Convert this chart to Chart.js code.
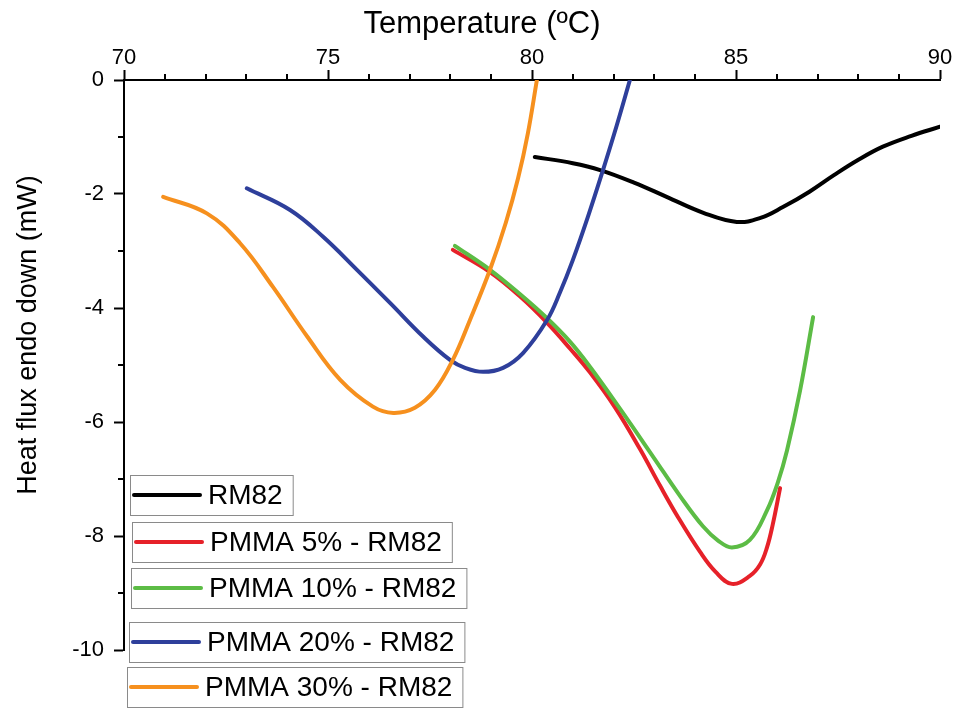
<!DOCTYPE html>
<html>
<head>
<meta charset="utf-8">
<script src="https://cdn.jsdelivr.net/npm/chart.js@4.4.1/dist/chart.umd.min.js"></script>
<style>
    body { margin: 0; background: #ffffff; }
    #wrap { width: 956px; height: 708px; }
</style>
</head>
<body>
<div id="wrap"><canvas id="dscChart" width="956" height="708"></canvas></div>
<script>
// Series labels and colours (legend order)
const seriesLabels = ['RM82', 'PMMA 5% - RM82', 'PMMA 10% - RM82', 'PMMA 20% - RM82', 'PMMA 30% - RM82'];
const seriesColors = ['#000000', '#e62129', '#5cbc45', '#2e3f9b', '#f6901e'];

// Temperature (x) and heat flux (y) readings for each curve
const rm82Temp = [80.07, 81.0, 81.67, 82.5, 83.3, 84.2, 85.02, 85.6, 86.15, 86.8, 87.4, 88.0, 88.6, 89.3, 90.0];
const rm82Flux = [-1.35, -1.46, -1.58, -1.8, -2.05, -2.33, -2.49, -2.42, -2.23, -1.96, -1.67, -1.4, -1.17, -0.98, -0.82];

const pmma5Temp = [78.06, 78.97, 79.71, 80.37, 80.93, 81.42, 82.03, 82.65, 83.14, 83.58, 84.12, 84.5, 84.9, 85.34, 85.59, 85.76, 85.9, 86.08];
const pmma5Flux = [-2.98, -3.37, -3.8, -4.26, -4.71, -5.13, -5.74, -6.48, -7.12, -7.67, -8.28, -8.63, -8.84, -8.7, -8.5, -8.2, -7.8, -7.16];

const pmma10Temp = [78.11, 78.97, 79.71, 80.37, 80.93, 81.42, 82.16, 82.97, 83.63, 84.19, 84.56, 84.9, 85.34, 85.76, 86.03, 86.25, 86.57, 86.89];
const pmma10Flux = [-2.91, -3.33, -3.76, -4.18, -4.59, -5.03, -5.77, -6.61, -7.3, -7.83, -8.08, -8.2, -8.07, -7.55, -7.05, -6.5, -5.45, -4.16];

const pmma20Temp = [73.01, 74.07, 74.88, 75.71, 76.52, 77.33, 77.99, 78.36, 78.8, 79.29, 79.78, 80.37, 80.69, 81.0, 81.37, 81.74, 82.08, 82.4];
const pmma20Flux = [-1.9, -2.28, -2.75, -3.33, -3.91, -4.5, -4.91, -5.05, -5.12, -5.05, -4.79, -4.21, -3.72, -3.16, -2.4, -1.58, -0.79, 0];

const pmma30Temp = [70.96, 72.03, 72.84, 73.65, 74.49, 75.3, 76.1, 76.6, 77.13, 77.62, 78.06, 78.48, 78.97, 79.36, 79.66, 79.9, 80.12];
const pmma30Flux = [-2.05, -2.34, -2.86, -3.63, -4.5, -5.26, -5.73, -5.84, -5.75, -5.44, -4.91, -4.21, -3.33, -2.5, -1.72, -0.93, 0];

// Axis ranges and tick steps
const xRange = [70, 90];
const yRange = [-10, 0];
const xMajorStep = 5;
const yMajorStep = 2;

const FONT = '"Liberation Sans", Arial, sans-serif';

function toPoints(xs, ys) {
    return xs.map((x, i) => ({ x: x, y: ys[i] }));
}

const allSeries = [
    toPoints(rm82Temp, rm82Flux),
    toPoints(pmma5Temp, pmma5Flux),
    toPoints(pmma10Temp, pmma10Flux),
    toPoints(pmma20Temp, pmma20Flux),
    toPoints(pmma30Temp, pmma30Flux),
];

// Minor ticks every 1 unit, drawn outwards from the axes
const minorTicks = {
    id: 'minorTicks',
    afterDraw(chart) {
        const ctx = chart.ctx;
        const xs = chart.scales.x, ys = chart.scales.y;
        const area = chart.chartArea;
        ctx.save();
        ctx.strokeStyle = '#000';
        ctx.lineWidth = 2;
        ctx.beginPath();
        for (let v = xRange[0]; v <= xRange[1]; v++) {
            if (v % xMajorStep === 0) continue;
            const px = Math.round(xs.getPixelForValue(v));
            ctx.moveTo(px, area.top);
            ctx.lineTo(px, area.top - 6);
        }
        for (let v = yRange[0]; v <= yRange[1]; v++) {
            if (v % yMajorStep === 0) continue;
            const py = Math.round(ys.getPixelForValue(v));
            ctx.moveTo(area.left, py);
            ctx.lineTo(area.left - 6, py);
        }
        ctx.stroke();
        ctx.restore();
    }
};

// Axis titles placed like the original figure
const axisTitles = {
    id: 'axisTitles',
    afterDraw(chart) {
        const ctx = chart.ctx;
        const area = chart.chartArea;
        ctx.save();
        ctx.fillStyle = '#000';
        ctx.textAlign = 'center';
        ctx.textBaseline = 'middle';
        ctx.font = '31px ' + FONT;
        ctx.fillText('Temperature (ºC)', area.left + 358, 24);
        ctx.translate(29, area.top + 255);
        ctx.rotate(-Math.PI / 2);
        ctx.font = '27px ' + FONT;
        ctx.fillText('Heat flux endo down (mW)', 0, 0);
        ctx.restore();
    }
};

// One framed box per series, stacked in the lower left corner
const boxLegend = {
    id: 'boxLegend',
    afterDraw(chart) {
        const ctx = chart.ctx;
        const boxTops = [475, 522, 568, 622, 667];
        const boxLefts = [130, 132, 131, 129, 127];
        const boxH = 40;
        ctx.save();
        ctx.font = '28px ' + FONT;
        ctx.textBaseline = 'middle';
        chart.data.datasets.forEach((ds, i) => {
            const left = boxLefts[i];
            const top = boxTops[i];
            const textW = ctx.measureText(ds.label).width;
            const w = 78 + textW + 10;
            ctx.fillStyle = '#ffffff';
            ctx.fillRect(left, top, w, boxH);
            ctx.strokeStyle = '#8a8a8a';
            ctx.lineWidth = 1;
            ctx.strokeRect(left + 0.5, top + 0.5, w, boxH);
            ctx.strokeStyle = ds.borderColor;
            ctx.lineWidth = 4;
            ctx.lineCap = 'round';
            ctx.beginPath();
            ctx.moveTo(left + 4, top + boxH / 2);
            ctx.lineTo(left + 70, top + boxH / 2);
            ctx.stroke();
            ctx.fillStyle = '#000';
            ctx.textAlign = 'left';
            ctx.fillText(ds.label, left + 78, top + boxH / 2 + 1);
        });
        ctx.restore();
    }
};

const ctx = document.getElementById('dscChart').getContext('2d');
const dscChart = new Chart(ctx, {
    type: 'line',
    data: {
        datasets: allSeries.map((pts, i) => ({
            label: seriesLabels[i],
            data: pts,
            borderColor: seriesColors[i],
            backgroundColor: seriesColors[i],
            borderWidth: 4,
            pointRadius: 0,
            fill: false,
            tension: 0.4,
            borderCapStyle: 'round',
            order: allSeries.length - i,
        }))
    },
    options: {
        responsive: false,
        animation: false,
        devicePixelRatio: 1,
        layout: { padding: { left: 0, right: 16, top: 0, bottom: 58 } },
        plugins: {
            legend: { display: false },
            tooltip: { enabled: false },
        },
        scales: {
            x: {
                type: 'linear',
                position: 'top',
                min: xRange[0],
                max: xRange[1],
                afterFit(scale) { scale.height = 80; },
                ticks: {
                    stepSize: xMajorStep,
                    color: '#000',
                    padding: -1,
                    maxRotation: 0,
                    font: { family: FONT, size: 22 },
                },
                grid: {
                    drawOnChartArea: false,
                    drawTicks: true,
                    tickLength: 10,
                    tickWidth: 2,
                    tickColor: '#000',
                },
                border: { display: true, color: '#000', width: 2 },
            },
            y: {
                type: 'linear',
                min: yRange[0],
                max: yRange[1],
                afterFit(scale) { scale.width = 124; },
                ticks: {
                    stepSize: yMajorStep,
                    color: '#000',
                    padding: 10,
                    font: { family: FONT, size: 22 },
                },
                grid: {
                    drawOnChartArea: false,
                    drawTicks: true,
                    tickLength: 10,
                    tickWidth: 2,
                    tickColor: '#000',
                },
                border: { display: true, color: '#000', width: 2 },
            }
        }
    },
    plugins: [minorTicks, axisTitles, boxLegend]
});
</script>
</body>
</html>
